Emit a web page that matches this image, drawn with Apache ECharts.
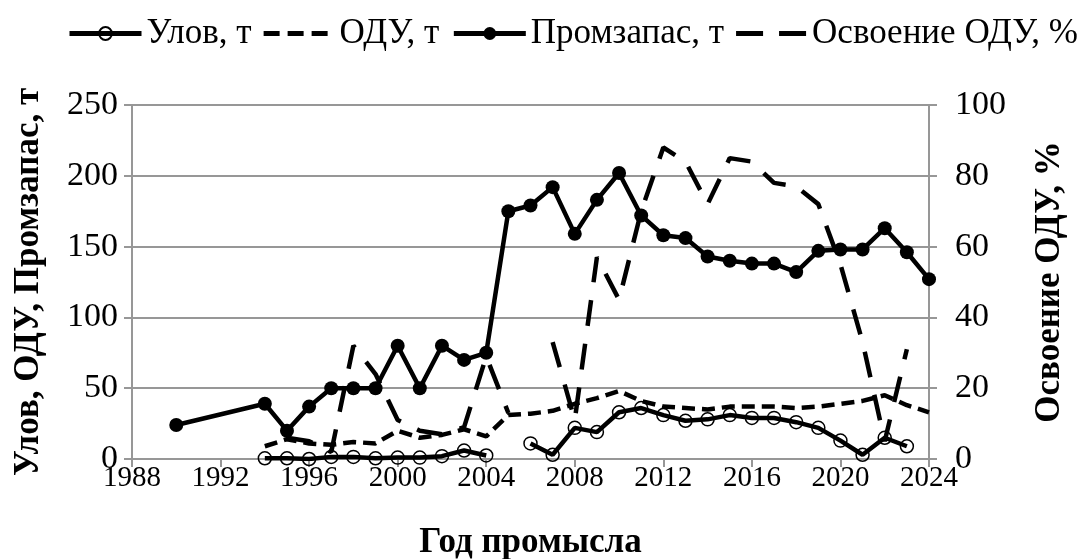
<!DOCTYPE html>
<html>
<head>
<meta charset="utf-8">
<script src="https://cdn.jsdelivr.net/npm/echarts@6/dist/echarts.min.js"></script>
<style>
    html, body { margin: 0; padding: 0; background: #fff; }
    #chart { width: 1088px; height: 559px; }
</style>
</head>
<body>
<div id="chart"></div>
<script>
// годы промысла
const years = [1990, 1991, 1992, 1993, 1994, 1995, 1996, 1997, 1998, 1999,
    2000, 2001, 2002, 2003, 2004, 2005, 2006, 2007, 2008, 2009,
    2010, 2011, 2012, 2013, 2014, 2015, 2016, 2017, 2018, 2019,
    2020, 2021, 2022, 2023, 2024]

// Улов, т
const catchT = [null, null, null, null, 0.5, 0.5, 0, 1.5, 1.5, 0.5,
    1, 1, 2, 6, 2.5, null, 11, 3, 22, 19,
    33, 36, 31, 27, 28, 31, 29, 29, 26, 22,
    13, 3, 15, 9, null]

// ОДУ, т
const oduT = [null, null, null, null, 9, 14, 11, 10, 12, 11,
    20, 15, 17, 21, 16, 31, 32, 34, 39, 43,
    48, 41, 37, 36, 35, 37, 37, 37, 36, 37,
    39, 41, 45, 38, 33]

// Промзапас, т
const stockT = [24, null, null, null, 39, 20, 37, 50, 50, 50,
    80, 50, 80, 70, 75, 175, 179, 192, 159, 183,
    202, 172, 158, 156, 143, 140, 138, 138, 132, 147,
    148, 148, 163, 146, 127]

// Освоение ОДУ, %
const osvoenie = [null, null, null, null, null, 6, 5, 2, 32, 24,
    11, 8, 7, 9, 29, 13, null, 33, 11, 57,
    45, 70, 88, 84, 72, 85, 84, 78, 77, 72,
    55, 33, 5, 31, null]

const FONT = '"Liberation Serif", "Times New Roman", serif'
const GRAY = '#979797'

// значки легенды для пунктирных линий (M0,0 и M70,16 задают рамку значка)
const ICON_SHORT_DASH = 'path://M0,0M70,16M0,5.5h16v5h-16zM24,5.5h16v5h-16zM48,5.5h16v5h-16z'
const ICON_LONG_DASH = 'path://M0,0M70,16M0,5.5h27v5h-27zM43,5.5h27v5h-27z'

const pairs = vals => years.map((y, i) => [y, vals[i] === null ? '-' : vals[i]])

const axisCommon = {
    axisLine: { show: true, lineStyle: { color: GRAY, width: 2 } },
    axisTick: { show: true, length: 8, lineStyle: { color: GRAY, width: 2 } },
    axisLabel: { color: '#000', fontFamily: FONT, fontSize: 34, formatter: v => String(v) },
    nameTextStyle: { color: '#000', fontFamily: FONT, fontSize: 35, fontWeight: 'bold' }
}

const option = {
    animation: false,
    backgroundColor: '#fff',
    grid: { left: 132, right: 159, top: 105, bottom: 100, outerBoundsMode: 'none' },
    legend: {
        top: 11,
        left: 62,
        itemWidth: 72,
        itemHeight: 16,
        itemGap: 12,
        lineStyle: { width: 5 },
        textStyle: { color: '#000', fontFamily: FONT, fontSize: 35 },
        data: [
            { name: 'Улов, т' },
            { name: 'ОДУ, т', icon: ICON_SHORT_DASH },
            { name: 'Промзапас, т' },
            { name: 'Освоение ОДУ, %', icon: ICON_LONG_DASH }
        ]
    },
    xAxis: {
        ...axisCommon,
        type: 'value',
        min: 1988,
        max: 2024,
        interval: 4,
        splitLine: { show: false },
        name: 'Год промысла',
        nameLocation: 'middle',
        nameGap: 66,
        axisLabel: { ...axisCommon.axisLabel, fontSize: 29, margin: 5 }
    },
    yAxis: [
        {
            ...axisCommon,
            type: 'value',
            min: 0,
            max: 250,
            interval: 50,
            splitLine: { show: true, lineStyle: { color: GRAY, width: 2 } },
            name: 'Улов, ОДУ, Промзапас, т',
            nameLocation: 'middle',
            nameGap: 86,
            axisLabel: { ...axisCommon.axisLabel, margin: 14 }
        },
        {
            ...axisCommon,
            type: 'value',
            min: 0,
            max: 100,
            interval: 20,
            position: 'right',
            splitLine: { show: false },
            name: 'Освоение ОДУ, %',
            nameLocation: 'middle',
            nameGap: 103,
            nameRotate: 90,
            axisLabel: { ...axisCommon.axisLabel, margin: 26 }
        }
    ],
    series: [
        {
            name: 'Улов, т',
            type: 'line',
            data: pairs(catchT),
            symbol: 'circle',
            symbolSize: 13,
            lineStyle: { color: '#000', width: 4.5 },
            itemStyle: { color: 'rgba(255,255,255,0)', borderColor: '#000', borderWidth: 1.5 },
            z: 4
        },
        {
            name: 'ОДУ, т',
            type: 'line',
            data: pairs(oduT),
            symbol: 'none',
            lineStyle: { color: '#000', width: 4.5, type: [13, 7] },
            itemStyle: { color: '#000' },
            z: 3
        },
        {
            name: 'Промзапас, т',
            type: 'line',
            data: pairs(stockT),
            connectNulls: true,
            symbol: 'circle',
            symbolSize: 14,
            lineStyle: { color: '#000', width: 4.5 },
            itemStyle: { color: '#000' },
            z: 5
        },
        {
            name: 'Освоение ОДУ, %',
            type: 'line',
            yAxisIndex: 1,
            data: pairs(osvoenie),
            symbol: 'none',
            lineStyle: { color: '#000', width: 4.5, type: [26, 18] },
            itemStyle: { color: '#000' },
            z: 3
        }
    ]
}

const chart = echarts.init(document.getElementById('chart'))
chart.setOption(option)
</script>
</body>
</html>
